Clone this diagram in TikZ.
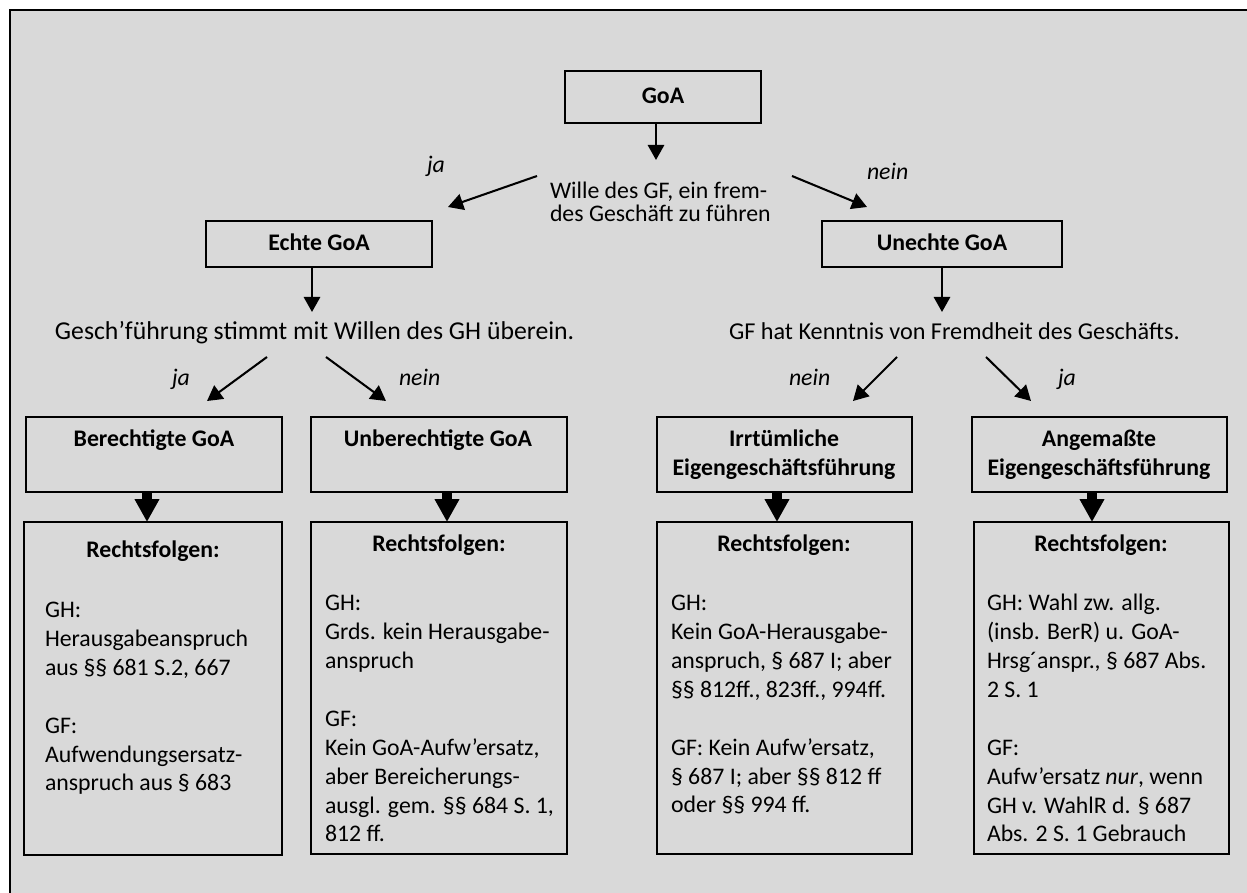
\documentclass[tikz,border=0pt]{standalone}
\usepackage{fontspec}
\setmainfont{Carlito}
\usetikzlibrary{arrows.meta,fit,calc}
\definecolor{bggray}{HTML}{D9D9D9}
\begin{document}
\begin{tikzpicture}[x=0.4625pt,y=-0.4625pt,
  box/.style={draw,line width=0.95pt,inner sep=0pt,outer sep=0pt},
  txt/.style={inner sep=0pt,outer sep=0pt,font=\fontsize{11pt}{13.41pt}\selectfont},
  btxt/.style={txt,font=\fontsize{11pt}{13.41pt}\selectfont\bfseries},
  itxt/.style={txt,font=\fontsize{11pt}{13.41pt}\selectfont\itshape},
  arr/.style={line width=0.95pt,-{Triangle[length=7pt,width=7.6pt]}},
  tarr/.style={line width=4.6pt,-{Triangle[length=10.6pt,width=10.8pt]}}]
\useasboundingbox (0,0) rectangle (1247,893);
\fill[bggray] (10,10) rectangle (1247,893);
\draw[line width=1pt] (10,893) -- (10,10) -- (1247,10);

% boxes
\node[box, fit={(565,71) (761,123)}] (goa) {};
\node[box, fit={(206,221) (432,267)}] (echte) {};
\node[box, fit={(822,221) (1062,267)}] (unechte) {};
\node[box, fit={(26,417) (282,492)}] (ber) {};
\node[box, fit={(311,417) (567,492)}] (unber) {};
\node[box, fit={(657,417) (912,492)}] (irr) {};
\node[box, fit={(972,417) (1227,492)}] (ang) {};
\node[box, fit={(24,522) (282,855)}] (rf1) {};
\node[box, fit={(311,522) (567,854)}] (rf2) {};
\node[box, fit={(657,522) (912,854)}] (rf3) {};
\node[box, fit={(974,522) (1229,854)}] (rf4) {};

% box titles
\node[btxt,anchor=base] (goaT) at (663,104) {GoA};
\node[btxt,anchor=base] (echteT) at (319,251) {Echte GoA};
\node[btxt,anchor=base] (unechteT) at (942,251) {Unechte GoA};
\node[btxt,anchor=base] (berT) at (154,447) {Berechtigte GoA};
\node[btxt,anchor=base] (unberT) at (438,447) {Unberechtigte GoA};
\node[btxt,anchor=base,align=center] (irrT) at (784,476) {Irrtümliche\\Eigengeschäftsführung};
\node[btxt,anchor=base,align=center] (angT) at (1099,476) {Angemaßte\\Eigengeschäftsführung};

% questions
\node[txt,anchor=base west,align=left,font=\fontsize{11pt}{10.64pt}\selectfont] (wille) at (550,222) {Wille des GF, ein frem-\\des Geschäft zu führen};
\node[txt,anchor=base west,font=\fontsize{11.9pt}{14pt}\selectfont] (gesch) at (55,340) {Gesch’führung stimmt mit Willen des GH überein.};
\node[txt,anchor=base west,font=\fontsize{11.2pt}{14pt}\selectfont] (kennt) at (729,340) {GF hat Kenntnis von Fremdheit des Geschäfts.};

% yes / no labels
\node[itxt,anchor=base west] (l1) at (427,173) {ja};
\node[itxt,anchor=base west] (l2) at (867,180) {nein};
\node[itxt,anchor=base west] (l3) at (172,386) {ja};
\node[itxt,anchor=base west] (l4) at (399,386) {nein};
\node[itxt,anchor=base west] (l5) at (789,386) {nein};
\node[itxt,anchor=base west] (l6) at (1058,386) {ja};

% Rechtsfolgen
\node[btxt,anchor=base] (rf1T) at (153,558) {Rechtsfolgen:};
\node[btxt,anchor=base] (rf2T) at (439,552) {Rechtsfolgen:};
\node[btxt,anchor=base] (rf3T) at (784,552) {Rechtsfolgen:};
\node[btxt,anchor=base] (rf4T) at (1101,552) {Rechtsfolgen:};

\node[txt,anchor=base west,align=left] (rf1B) at (45,791)
  {GH:\\Herausgabeanspruch\\aus §§ 681 S.2, 667\\[13.41pt]GF:\\Aufwendungsersatz-\\anspruch aus § 683};
\node[txt,anchor=base west,align=left] (rf2B) at (325,842)
  {GH:\\Grds. kein Herausgabe-\\anspruch\\[13.41pt]GF:\\Kein GoA-Aufw’ersatz,\\aber Bereicherungs-\\ausgl. gem. §§ 684 S. 1,\\812 ff.};
\node[txt,anchor=base west,align=left] (rf3B) at (671,813)
  {GH:\\Kein GoA-Herausgabe-\\anspruch, § 687 I; aber\\§§ 812ff., 823ff., 994ff.\\[13.41pt]GF: Kein Aufw’ersatz,\\§ 687 I; aber §§ 812 ff\\oder §§ 994 ff.};
\node[txt,anchor=base west,align=left] (rf4B) at (987,842)
  {GH: Wahl zw. allg.\\(insb. BerR) u. GoA-\\Hrsg´anspr., § 687 Abs.\\2 S. 1\\[13.41pt]GF:\\Aufw’ersatz \textit{nur}, wenn\\GH v. WahlR d. § 687\\Abs. 2 S. 1 Gebrauch};

% connectors
\draw[arr] ($(goa.south)+(-7,0)$) -- ($(goa.south)+(-7,37)$);
\draw[arr] ($(goa.south west)+(-28,53)$) -- ($(echte.north east)+(16,-14)$);
\draw[arr] ($(goa.south east)+(31,53)$) -- ($(unechte.north west)+(45,-14)$);
\draw[arr] ($(echte.south)+(-7,0)$) -- ($(echte.south)+(-7,45)$);
\draw[arr] (unechte.south) -- ($(unechte.south)+(0,45)$);
\draw[arr] ($(echte.south)+(-52,90)$) -- ($(ber.north)+(53,-16)$);
\draw[arr] ($(echte.south)+(7,90)$) -- ($(unber.north)+(-53,-16)$);
\draw[arr] ($(unechte.south)+(-45,90)$) -- ($(irr.north)+(68.5,-16)$);
\draw[arr] ($(unechte.south)+(44,90)$) -- ($(ang.north)+(-68.5,-16)$);
\draw[tarr] ($(ber.south)+(-7,0)$) -- ($(rf1.north)+(-6,0)$);
\draw[tarr] ($(unber.south)+(8,0)$) -- ($(rf2.north)+(8,0)$);
\draw[tarr] ($(irr.south)+(-7.5,0)$) -- ($(rf3.north)+(-7.5,0)$);
\draw[tarr] ($(ang.south)+(-7.5,0)$) -- ($(rf4.north)+(-9.5,0)$);
\end{tikzpicture}
\end{document}
